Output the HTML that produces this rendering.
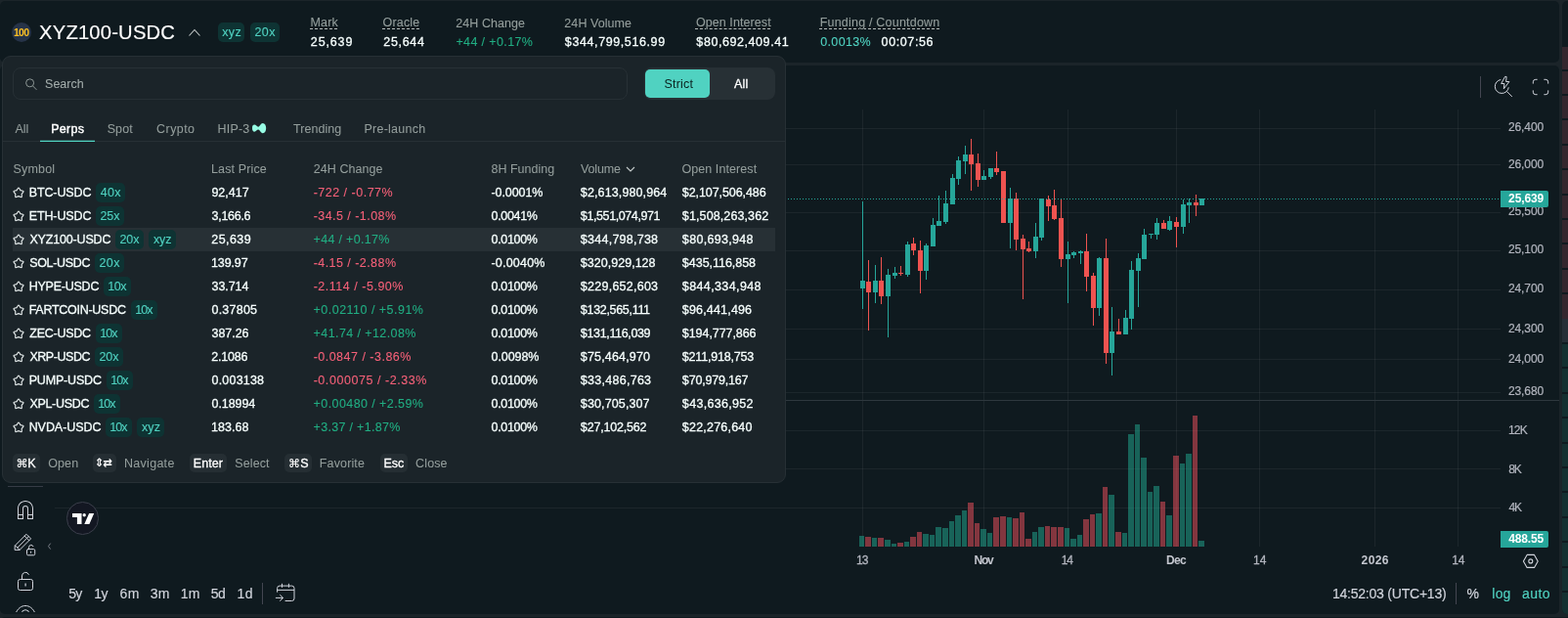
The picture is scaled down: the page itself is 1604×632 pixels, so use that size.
<!DOCTYPE html>
<html lang="en">
<head>
<meta charset="utf-8">
<title>XYZ100-USDC</title>
<style>
html,body{margin:0;padding:0;}
body{width:1604px;height:632px;overflow:hidden;background:#1b2429;font-family:"Liberation Sans",sans-serif;font-size:12px;color:#f6fefd;}
#app{position:relative;width:1604px;height:632px;overflow:hidden;}
.b{position:absolute;box-sizing:border-box;}
.t{position:absolute;white-space:pre;line-height:16px;height:16px;}
svg{position:absolute;overflow:visible;}
kbd{font:inherit;}
section{display:block;margin:0;padding:0;}

</style>
</head>
<body>
<div id="app">
<div class="b" style="left:0px;top:1px;width:1595px;height:63px;background:#0f1a1f;border-radius:5px;"></div>
<div class="b" style="left:0px;top:67px;width:1595px;height:561px;background:#0f1a1f;border-radius:5px;"></div>
<div class="b" style="left:0px;top:631px;width:1620px;height:12px;background:#0f1a1f;border-radius:5px;"></div>
<section class="order-book">
<div class="b" style="left:1598px;top:1px;width:12px;height:627px;background:#0f1a1f;border-radius:5px 0 0 5px;overflow:hidden;"><div class="b" style="left:0;top:47px;width:12px;height:278px;background:#33272e"></div><div class="b" style="left:0;top:325px;width:12px;height:24px;background:#262f37"></div><div class="b" style="left:0;top:351px;width:12px;height:288px;background:#143031"></div><div class="b" style="left:0;top:70px;width:12px;height:2px;background:#0f1a1f"></div><div class="b" style="left:0;top:95px;width:12px;height:2px;background:#0f1a1f"></div><div class="b" style="left:0;top:120px;width:12px;height:2px;background:#0f1a1f"></div><div class="b" style="left:0;top:146px;width:12px;height:2px;background:#0f1a1f"></div><div class="b" style="left:0;top:171px;width:12px;height:2px;background:#0f1a1f"></div><div class="b" style="left:0;top:197px;width:12px;height:2px;background:#0f1a1f"></div><div class="b" style="left:0;top:222px;width:12px;height:2px;background:#0f1a1f"></div><div class="b" style="left:0;top:247px;width:12px;height:2px;background:#0f1a1f"></div><div class="b" style="left:0;top:273px;width:12px;height:2px;background:#0f1a1f"></div><div class="b" style="left:0;top:298px;width:12px;height:2px;background:#0f1a1f"></div><div class="b" style="left:0;top:374px;width:12px;height:2px;background:#0f1a1f"></div><div class="b" style="left:0;top:400px;width:12px;height:2px;background:#0f1a1f"></div><div class="b" style="left:0;top:425px;width:12px;height:2px;background:#0f1a1f"></div><div class="b" style="left:0;top:451px;width:12px;height:2px;background:#0f1a1f"></div><div class="b" style="left:0;top:476px;width:12px;height:2px;background:#0f1a1f"></div><div class="b" style="left:0;top:501px;width:12px;height:2px;background:#0f1a1f"></div><div class="b" style="left:0;top:527px;width:12px;height:2px;background:#0f1a1f"></div><div class="b" style="left:0;top:552px;width:12px;height:2px;background:#0f1a1f"></div><div class="b" style="left:0;top:578px;width:12px;height:2px;background:#0f1a1f"></div><div class="b" style="left:0;top:603px;width:12px;height:2px;background:#0f1a1f"></div></div>
</section>
<section class="market-header">
<div class="b" style="left:12px;top:23px;width:20px;height:20px;background:#263348;border-radius:10px;"></div>
<span class="t" style="left:14.04px;top:24.7px;font-size:10.5px;color:#fbbf24;font-weight:700;letter-spacing:-0.77px;">100</span>
<span class="t" style="left:40.05px;top:25px;font-size:20.2px;color:#ffffff;letter-spacing:0.2px;-webkit-text-stroke:0.15px #ffffff;">XYZ100-USDC</span>
<svg style="left:192px;top:27px" width="14" height="12" viewBox="0 0 14 12"><path d="M1.5 9.5 L7 3.5 L12.5 9.5" fill="none" stroke="#c4caca" stroke-width="1.1"/></svg>
<div class="b" style="left:223px;top:23px;width:27px;height:20px;background:#0e3333;border-radius:5px;"></div>
<span class="t" style="left:227.36px;top:25px;font-size:12.5px;color:#50d2c1;letter-spacing:0.26px;-webkit-text-stroke:0.1px #50d2c1;">xyz</span>
<div class="b" style="left:256px;top:23px;width:30px;height:20px;background:#0e3333;border-radius:5px;"></div>
<span class="t" style="left:260.47px;top:25px;font-size:12.5px;color:#50d2c1;letter-spacing:0.4px;-webkit-text-stroke:0.1px #50d2c1;">20x</span>
<span class="t" style="left:317.47px;top:15px;font-size:12.5px;color:#949e9c;letter-spacing:0.18px;-webkit-text-stroke:0.1px #949e9c;text-decoration:underline dashed #b4bbba;text-decoration-thickness:1px;text-underline-offset:2px;">Mark</span>
<span class="t" style="left:391.51px;top:15px;font-size:12.5px;color:#949e9c;letter-spacing:0.18px;-webkit-text-stroke:0.1px #949e9c;text-decoration:underline dashed #b4bbba;text-decoration-thickness:1px;text-underline-offset:2px;">Oracle</span>
<span class="t" style="left:466.37px;top:16px;font-size:12.5px;color:#949e9c;letter-spacing:0.05px;-webkit-text-stroke:0.1px #949e9c;">24H Change</span>
<span class="t" style="left:577.37px;top:16px;font-size:12.5px;color:#949e9c;letter-spacing:0.06px;-webkit-text-stroke:0.1px #949e9c;">24H Volume</span>
<span class="t" style="left:711.91px;top:15px;font-size:12.5px;color:#949e9c;letter-spacing:0.08px;-webkit-text-stroke:0.1px #949e9c;text-decoration:underline dashed #b4bbba;text-decoration-thickness:1px;text-underline-offset:2px;">Open Interest</span>
<span class="t" style="left:838.67px;top:15px;font-size:12.5px;color:#949e9c;letter-spacing:0.21px;-webkit-text-stroke:0.1px #949e9c;text-decoration:underline dashed #b4bbba;text-decoration-thickness:1px;text-underline-offset:2px;">Funding / Countdown</span>
<span class="t" style="left:317.87px;top:35px;font-size:12.5px;color:#f6fefd;letter-spacing:0.85px;-webkit-text-stroke:0.3px #f6fefd;">25,639</span>
<span class="t" style="left:392.37px;top:35px;font-size:12.5px;color:#f6fefd;letter-spacing:0.65px;-webkit-text-stroke:0.3px #f6fefd;">25,644</span>
<span class="t" style="left:466.39px;top:35px;font-size:12.5px;color:#21ad82;letter-spacing:0.38px;-webkit-text-stroke:0.1px #21ad82;">+44 / +0.17%</span>
<span class="t" style="left:577.87px;top:35px;font-size:12.5px;color:#f6fefd;letter-spacing:0.6px;-webkit-text-stroke:0.3px #f6fefd;">$344,799,516.99</span>
<span class="t" style="left:712.37px;top:35px;font-size:12.5px;color:#f6fefd;letter-spacing:0.57px;-webkit-text-stroke:0.3px #f6fefd;">$80,692,409.41</span>
<span class="t" style="left:839.21px;top:35px;font-size:12.5px;color:#50d2c1;letter-spacing:0.35px;-webkit-text-stroke:0.1px #50d2c1;">0.0013%</span>
<span class="t" style="left:901.61px;top:35px;font-size:12.5px;color:#f6fefd;letter-spacing:0.6px;-webkit-text-stroke:0.3px #f6fefd;">00:07:56</span>
</section>
<section class="chart">
<svg style="left:0;top:0" width="1604" height="632" viewBox="0 0 1604 632" shape-rendering="crispEdges"><rect x="882" y="112" width="1" height="447" fill="rgba(255,255,255,0.055)"/><rect x="1006" y="112" width="1" height="447" fill="rgba(255,255,255,0.055)"/><rect x="1092" y="112" width="1" height="447" fill="rgba(255,255,255,0.055)"/><rect x="1203" y="112" width="1" height="447" fill="rgba(255,255,255,0.055)"/><rect x="1288" y="112" width="1" height="447" fill="rgba(255,255,255,0.055)"/><rect x="1406" y="112" width="1" height="447" fill="rgba(255,255,255,0.055)"/><rect x="1491" y="112" width="1" height="447" fill="rgba(255,255,255,0.055)"/><rect x="56" y="131" width="1479" height="1" fill="rgba(255,255,255,0.055)"/><rect x="56" y="168" width="1479" height="1" fill="rgba(255,255,255,0.055)"/><rect x="56" y="217" width="1479" height="1" fill="rgba(255,255,255,0.055)"/><rect x="56" y="256" width="1479" height="1" fill="rgba(255,255,255,0.055)"/><rect x="56" y="296" width="1479" height="1" fill="rgba(255,255,255,0.055)"/><rect x="56" y="336" width="1479" height="1" fill="rgba(255,255,255,0.055)"/><rect x="56" y="367" width="1479" height="1" fill="rgba(255,255,255,0.055)"/><rect x="56" y="401" width="1479" height="1" fill="rgba(255,255,255,0.055)"/><rect x="56" y="440" width="1479" height="1" fill="rgba(255,255,255,0.055)"/><rect x="56" y="479" width="1479" height="1" fill="rgba(255,255,255,0.055)"/><rect x="56" y="519" width="1479" height="1" fill="rgba(255,255,255,0.055)"/><rect x="56" y="409" width="1539" height="1" fill="#2e383e"/><rect x="879" y="548" width="5" height="11" fill="rgba(34,171,148,0.5)"/><rect x="885" y="549" width="6" height="10" fill="rgba(247,82,95,0.5)"/><rect x="892" y="550" width="5" height="9" fill="rgba(34,171,148,0.5)"/><rect x="898" y="550" width="6" height="9" fill="rgba(247,82,95,0.5)"/><rect x="905" y="552" width="6" height="7" fill="rgba(34,171,148,0.5)"/><rect x="912" y="556" width="5" height="3" fill="rgba(34,171,148,0.5)"/><rect x="918" y="555" width="6" height="4" fill="rgba(247,82,95,0.5)"/><rect x="925" y="554" width="5" height="5" fill="rgba(34,171,148,0.5)"/><rect x="931" y="549" width="6" height="10" fill="rgba(247,82,95,0.5)"/><rect x="938" y="544" width="5" height="15" fill="rgba(247,82,95,0.5)"/><rect x="944" y="546" width="6" height="13" fill="rgba(34,171,148,0.5)"/><rect x="951" y="547" width="5" height="12" fill="rgba(34,171,148,0.5)"/><rect x="957" y="539" width="6" height="20" fill="rgba(34,171,148,0.5)"/><rect x="964" y="540" width="6" height="19" fill="rgba(34,171,148,0.5)"/><rect x="971" y="533" width="5" height="26" fill="rgba(34,171,148,0.5)"/><rect x="977" y="527" width="6" height="32" fill="rgba(34,171,148,0.5)"/><rect x="984" y="522" width="5" height="37" fill="rgba(34,171,148,0.5)"/><rect x="990" y="514" width="6" height="45" fill="rgba(247,82,95,0.5)"/><rect x="997" y="535" width="5" height="24" fill="rgba(247,82,95,0.5)"/><rect x="1003" y="541" width="6" height="18" fill="rgba(34,171,148,0.5)"/><rect x="1010" y="545" width="5" height="14" fill="rgba(34,171,148,0.5)"/><rect x="1016" y="529" width="6" height="30" fill="rgba(247,82,95,0.5)"/><rect x="1023" y="528" width="6" height="31" fill="rgba(247,82,95,0.5)"/><rect x="1030" y="529" width="5" height="30" fill="rgba(34,171,148,0.5)"/><rect x="1036" y="530" width="6" height="29" fill="rgba(247,82,95,0.5)"/><rect x="1043" y="524" width="5" height="35" fill="rgba(247,82,95,0.5)"/><rect x="1049" y="551" width="6" height="8" fill="rgba(247,82,95,0.5)"/><rect x="1056" y="544" width="5" height="15" fill="rgba(34,171,148,0.5)"/><rect x="1062" y="539" width="6" height="20" fill="rgba(34,171,148,0.5)"/><rect x="1069" y="538" width="5" height="21" fill="rgba(247,82,95,0.5)"/><rect x="1075" y="539" width="6" height="20" fill="rgba(247,82,95,0.5)"/><rect x="1082" y="539" width="6" height="20" fill="rgba(247,82,95,0.5)"/><rect x="1089" y="540" width="5" height="19" fill="rgba(34,171,148,0.5)"/><rect x="1095" y="551" width="6" height="8" fill="rgba(34,171,148,0.5)"/><rect x="1102" y="547" width="5" height="12" fill="rgba(34,171,148,0.5)"/><rect x="1108" y="531" width="6" height="28" fill="rgba(247,82,95,0.5)"/><rect x="1115" y="526" width="5" height="33" fill="rgba(247,82,95,0.5)"/><rect x="1121" y="525" width="6" height="34" fill="rgba(34,171,148,0.5)"/><rect x="1128" y="498" width="5" height="61" fill="rgba(247,82,95,0.5)"/><rect x="1134" y="506" width="6" height="53" fill="rgba(34,171,148,0.5)"/><rect x="1141" y="544" width="6" height="15" fill="rgba(247,82,95,0.5)"/><rect x="1148" y="545" width="5" height="14" fill="rgba(34,171,148,0.5)"/><rect x="1154" y="444" width="6" height="115" fill="rgba(34,171,148,0.5)"/><rect x="1161" y="434" width="5" height="125" fill="rgba(34,171,148,0.5)"/><rect x="1167" y="468" width="6" height="91" fill="rgba(34,171,148,0.5)"/><rect x="1174" y="503" width="5" height="56" fill="rgba(34,171,148,0.5)"/><rect x="1180" y="497" width="6" height="62" fill="rgba(34,171,148,0.5)"/><rect x="1187" y="513" width="5" height="46" fill="rgba(247,82,95,0.5)"/><rect x="1193" y="527" width="6" height="32" fill="rgba(34,171,148,0.5)"/><rect x="1200" y="466" width="6" height="93" fill="rgba(247,82,95,0.5)"/><rect x="1207" y="474" width="5" height="85" fill="rgba(34,171,148,0.5)"/><rect x="1213" y="464" width="6" height="95" fill="rgba(34,171,148,0.5)"/><rect x="1220" y="425" width="5" height="134" fill="rgba(247,82,95,0.5)"/><rect x="1226" y="553" width="6" height="6" fill="rgba(34,171,148,0.5)"/><rect x="882" y="206" width="1" height="110" fill="#26a69a"/><rect x="880" y="287" width="5" height="8" fill="#26a69a"/><rect x="888" y="266" width="1" height="72" fill="#ef5350"/><rect x="886" y="288" width="5" height="11" fill="#ef5350"/><rect x="895" y="271" width="1" height="39" fill="#26a69a"/><rect x="893" y="287" width="5" height="12" fill="#26a69a"/><rect x="901" y="263" width="1" height="48" fill="#ef5350"/><rect x="899" y="287" width="5" height="16" fill="#ef5350"/><rect x="908" y="275" width="1" height="70" fill="#26a69a"/><rect x="906" y="281" width="5" height="22" fill="#26a69a"/><rect x="915" y="273" width="1" height="12" fill="#26a69a"/><rect x="913" y="279" width="5" height="3" fill="#26a69a"/><rect x="921" y="272" width="1" height="10" fill="#ef5350"/><rect x="919" y="279" width="5" height="1" fill="#ef5350"/><rect x="928" y="247" width="1" height="36" fill="#26a69a"/><rect x="926" y="250" width="5" height="31" fill="#26a69a"/><rect x="934" y="243" width="1" height="18" fill="#ef5350"/><rect x="932" y="249" width="5" height="7" fill="#ef5350"/><rect x="941" y="246" width="1" height="54" fill="#ef5350"/><rect x="939" y="256" width="5" height="21" fill="#ef5350"/><rect x="947" y="249" width="1" height="37" fill="#26a69a"/><rect x="945" y="251" width="5" height="26" fill="#26a69a"/><rect x="954" y="223" width="1" height="29" fill="#26a69a"/><rect x="952" y="230" width="5" height="22" fill="#26a69a"/><rect x="960" y="200" width="1" height="31" fill="#26a69a"/><rect x="958" y="226" width="5" height="5" fill="#26a69a"/><rect x="967" y="195" width="1" height="34" fill="#26a69a"/><rect x="965" y="208" width="5" height="19" fill="#26a69a"/><rect x="974" y="178" width="1" height="31" fill="#26a69a"/><rect x="972" y="182" width="5" height="27" fill="#26a69a"/><rect x="980" y="160" width="1" height="29" fill="#26a69a"/><rect x="978" y="164" width="5" height="19" fill="#26a69a"/><rect x="987" y="149" width="1" height="29" fill="#26a69a"/><rect x="985" y="158" width="5" height="7" fill="#26a69a"/><rect x="993" y="142" width="1" height="53" fill="#ef5350"/><rect x="991" y="158" width="5" height="10" fill="#ef5350"/><rect x="1000" y="157" width="1" height="34" fill="#ef5350"/><rect x="998" y="167" width="5" height="17" fill="#ef5350"/><rect x="1006" y="174" width="1" height="10" fill="#26a69a"/><rect x="1004" y="180" width="5" height="4" fill="#26a69a"/><rect x="1013" y="172" width="1" height="11" fill="#26a69a"/><rect x="1011" y="172" width="5" height="9" fill="#26a69a"/><rect x="1019" y="155" width="1" height="24" fill="#ef5350"/><rect x="1017" y="172" width="5" height="4" fill="#ef5350"/><rect x="1026" y="175" width="1" height="53" fill="#ef5350"/><rect x="1024" y="175" width="5" height="53" fill="#ef5350"/><rect x="1033" y="192" width="1" height="62" fill="#26a69a"/><rect x="1031" y="203" width="5" height="25" fill="#26a69a"/><rect x="1039" y="197" width="1" height="59" fill="#ef5350"/><rect x="1037" y="203" width="5" height="42" fill="#ef5350"/><rect x="1046" y="240" width="1" height="66" fill="#ef5350"/><rect x="1044" y="244" width="5" height="11" fill="#ef5350"/><rect x="1052" y="247" width="1" height="11" fill="#ef5350"/><rect x="1050" y="254" width="5" height="3" fill="#ef5350"/><rect x="1059" y="228" width="1" height="36" fill="#26a69a"/><rect x="1057" y="242" width="5" height="15" fill="#26a69a"/><rect x="1065" y="203" width="1" height="43" fill="#26a69a"/><rect x="1063" y="203" width="5" height="40" fill="#26a69a"/><rect x="1072" y="200" width="1" height="26" fill="#ef5350"/><rect x="1070" y="204" width="5" height="7" fill="#ef5350"/><rect x="1078" y="194" width="1" height="31" fill="#ef5350"/><rect x="1076" y="210" width="5" height="14" fill="#ef5350"/><rect x="1085" y="204" width="1" height="69" fill="#ef5350"/><rect x="1083" y="223" width="5" height="42" fill="#ef5350"/><rect x="1092" y="247" width="1" height="63" fill="#26a69a"/><rect x="1090" y="260" width="5" height="5" fill="#26a69a"/><rect x="1098" y="257" width="1" height="7" fill="#26a69a"/><rect x="1096" y="258" width="5" height="3" fill="#26a69a"/><rect x="1105" y="256" width="1" height="14" fill="#26a69a"/><rect x="1103" y="257" width="5" height="2" fill="#26a69a"/><rect x="1111" y="239" width="1" height="59" fill="#ef5350"/><rect x="1109" y="257" width="5" height="26" fill="#ef5350"/><rect x="1118" y="279" width="1" height="54" fill="#ef5350"/><rect x="1116" y="282" width="5" height="33" fill="#ef5350"/><rect x="1124" y="263" width="1" height="60" fill="#26a69a"/><rect x="1122" y="264" width="5" height="51" fill="#26a69a"/><rect x="1131" y="244" width="1" height="128" fill="#ef5350"/><rect x="1129" y="264" width="5" height="97" fill="#ef5350"/><rect x="1137" y="314" width="1" height="70" fill="#26a69a"/><rect x="1135" y="339" width="5" height="22" fill="#26a69a"/><rect x="1144" y="326" width="1" height="16" fill="#ef5350"/><rect x="1142" y="339" width="5" height="3" fill="#ef5350"/><rect x="1151" y="317" width="1" height="25" fill="#26a69a"/><rect x="1149" y="325" width="5" height="17" fill="#26a69a"/><rect x="1157" y="267" width="1" height="70" fill="#26a69a"/><rect x="1155" y="276" width="5" height="50" fill="#26a69a"/><rect x="1164" y="259" width="1" height="55" fill="#26a69a"/><rect x="1162" y="264" width="5" height="13" fill="#26a69a"/><rect x="1170" y="234" width="1" height="31" fill="#26a69a"/><rect x="1168" y="240" width="5" height="25" fill="#26a69a"/><rect x="1177" y="239" width="1" height="5" fill="#26a69a"/><rect x="1175" y="239" width="5" height="1" fill="#26a69a"/><rect x="1183" y="223" width="1" height="22" fill="#26a69a"/><rect x="1181" y="228" width="5" height="12" fill="#26a69a"/><rect x="1190" y="225" width="1" height="9" fill="#ef5350"/><rect x="1188" y="228" width="5" height="6" fill="#ef5350"/><rect x="1196" y="221" width="1" height="15" fill="#26a69a"/><rect x="1194" y="226" width="5" height="9" fill="#26a69a"/><rect x="1203" y="222" width="1" height="31" fill="#ef5350"/><rect x="1201" y="227" width="5" height="5" fill="#ef5350"/><rect x="1210" y="204" width="1" height="35" fill="#26a69a"/><rect x="1208" y="209" width="5" height="23" fill="#26a69a"/><rect x="1216" y="203" width="1" height="25" fill="#26a69a"/><rect x="1214" y="207" width="5" height="3" fill="#26a69a"/><rect x="1223" y="199" width="1" height="22" fill="#ef5350"/><rect x="1221" y="207" width="5" height="3" fill="#ef5350"/><rect x="1229" y="203" width="1" height="7" fill="#26a69a"/><rect x="1227" y="203" width="5" height="7" fill="#26a69a"/><rect x="803" y="203" width="1" height="1" fill="#26a69a"/><rect x="806" y="203" width="1" height="1" fill="#26a69a"/><rect x="809" y="203" width="1" height="1" fill="#26a69a"/><rect x="812" y="203" width="1" height="1" fill="#26a69a"/><rect x="815" y="203" width="1" height="1" fill="#26a69a"/><rect x="818" y="203" width="1" height="1" fill="#26a69a"/><rect x="821" y="203" width="1" height="1" fill="#26a69a"/><rect x="824" y="203" width="1" height="1" fill="#26a69a"/><rect x="827" y="203" width="1" height="1" fill="#26a69a"/><rect x="830" y="203" width="1" height="1" fill="#26a69a"/><rect x="833" y="203" width="1" height="1" fill="#26a69a"/><rect x="836" y="203" width="1" height="1" fill="#26a69a"/><rect x="839" y="203" width="1" height="1" fill="#26a69a"/><rect x="842" y="203" width="1" height="1" fill="#26a69a"/><rect x="845" y="203" width="1" height="1" fill="#26a69a"/><rect x="848" y="203" width="1" height="1" fill="#26a69a"/><rect x="851" y="203" width="1" height="1" fill="#26a69a"/><rect x="854" y="203" width="1" height="1" fill="#26a69a"/><rect x="857" y="203" width="1" height="1" fill="#26a69a"/><rect x="860" y="203" width="1" height="1" fill="#26a69a"/><rect x="863" y="203" width="1" height="1" fill="#26a69a"/><rect x="866" y="203" width="1" height="1" fill="#26a69a"/><rect x="869" y="203" width="1" height="1" fill="#26a69a"/><rect x="872" y="203" width="1" height="1" fill="#26a69a"/><rect x="875" y="203" width="1" height="1" fill="#26a69a"/><rect x="878" y="203" width="1" height="1" fill="#26a69a"/><rect x="881" y="203" width="1" height="1" fill="#26a69a"/><rect x="884" y="203" width="1" height="1" fill="#26a69a"/><rect x="887" y="203" width="1" height="1" fill="#26a69a"/><rect x="890" y="203" width="1" height="1" fill="#26a69a"/><rect x="893" y="203" width="1" height="1" fill="#26a69a"/><rect x="896" y="203" width="1" height="1" fill="#26a69a"/><rect x="899" y="203" width="1" height="1" fill="#26a69a"/><rect x="902" y="203" width="1" height="1" fill="#26a69a"/><rect x="905" y="203" width="1" height="1" fill="#26a69a"/><rect x="908" y="203" width="1" height="1" fill="#26a69a"/><rect x="911" y="203" width="1" height="1" fill="#26a69a"/><rect x="914" y="203" width="1" height="1" fill="#26a69a"/><rect x="917" y="203" width="1" height="1" fill="#26a69a"/><rect x="920" y="203" width="1" height="1" fill="#26a69a"/><rect x="923" y="203" width="1" height="1" fill="#26a69a"/><rect x="926" y="203" width="1" height="1" fill="#26a69a"/><rect x="929" y="203" width="1" height="1" fill="#26a69a"/><rect x="932" y="203" width="1" height="1" fill="#26a69a"/><rect x="935" y="203" width="1" height="1" fill="#26a69a"/><rect x="938" y="203" width="1" height="1" fill="#26a69a"/><rect x="941" y="203" width="1" height="1" fill="#26a69a"/><rect x="944" y="203" width="1" height="1" fill="#26a69a"/><rect x="947" y="203" width="1" height="1" fill="#26a69a"/><rect x="950" y="203" width="1" height="1" fill="#26a69a"/><rect x="953" y="203" width="1" height="1" fill="#26a69a"/><rect x="956" y="203" width="1" height="1" fill="#26a69a"/><rect x="959" y="203" width="1" height="1" fill="#26a69a"/><rect x="962" y="203" width="1" height="1" fill="#26a69a"/><rect x="965" y="203" width="1" height="1" fill="#26a69a"/><rect x="968" y="203" width="1" height="1" fill="#26a69a"/><rect x="971" y="203" width="1" height="1" fill="#26a69a"/><rect x="974" y="203" width="1" height="1" fill="#26a69a"/><rect x="977" y="203" width="1" height="1" fill="#26a69a"/><rect x="980" y="203" width="1" height="1" fill="#26a69a"/><rect x="983" y="203" width="1" height="1" fill="#26a69a"/><rect x="986" y="203" width="1" height="1" fill="#26a69a"/><rect x="989" y="203" width="1" height="1" fill="#26a69a"/><rect x="992" y="203" width="1" height="1" fill="#26a69a"/><rect x="995" y="203" width="1" height="1" fill="#26a69a"/><rect x="998" y="203" width="1" height="1" fill="#26a69a"/><rect x="1001" y="203" width="1" height="1" fill="#26a69a"/><rect x="1004" y="203" width="1" height="1" fill="#26a69a"/><rect x="1007" y="203" width="1" height="1" fill="#26a69a"/><rect x="1010" y="203" width="1" height="1" fill="#26a69a"/><rect x="1013" y="203" width="1" height="1" fill="#26a69a"/><rect x="1016" y="203" width="1" height="1" fill="#26a69a"/><rect x="1019" y="203" width="1" height="1" fill="#26a69a"/><rect x="1022" y="203" width="1" height="1" fill="#26a69a"/><rect x="1025" y="203" width="1" height="1" fill="#26a69a"/><rect x="1028" y="203" width="1" height="1" fill="#26a69a"/><rect x="1031" y="203" width="1" height="1" fill="#26a69a"/><rect x="1034" y="203" width="1" height="1" fill="#26a69a"/><rect x="1037" y="203" width="1" height="1" fill="#26a69a"/><rect x="1040" y="203" width="1" height="1" fill="#26a69a"/><rect x="1043" y="203" width="1" height="1" fill="#26a69a"/><rect x="1046" y="203" width="1" height="1" fill="#26a69a"/><rect x="1049" y="203" width="1" height="1" fill="#26a69a"/><rect x="1052" y="203" width="1" height="1" fill="#26a69a"/><rect x="1055" y="203" width="1" height="1" fill="#26a69a"/><rect x="1058" y="203" width="1" height="1" fill="#26a69a"/><rect x="1061" y="203" width="1" height="1" fill="#26a69a"/><rect x="1064" y="203" width="1" height="1" fill="#26a69a"/><rect x="1067" y="203" width="1" height="1" fill="#26a69a"/><rect x="1070" y="203" width="1" height="1" fill="#26a69a"/><rect x="1073" y="203" width="1" height="1" fill="#26a69a"/><rect x="1076" y="203" width="1" height="1" fill="#26a69a"/><rect x="1079" y="203" width="1" height="1" fill="#26a69a"/><rect x="1082" y="203" width="1" height="1" fill="#26a69a"/><rect x="1085" y="203" width="1" height="1" fill="#26a69a"/><rect x="1088" y="203" width="1" height="1" fill="#26a69a"/><rect x="1091" y="203" width="1" height="1" fill="#26a69a"/><rect x="1094" y="203" width="1" height="1" fill="#26a69a"/><rect x="1097" y="203" width="1" height="1" fill="#26a69a"/><rect x="1100" y="203" width="1" height="1" fill="#26a69a"/><rect x="1103" y="203" width="1" height="1" fill="#26a69a"/><rect x="1106" y="203" width="1" height="1" fill="#26a69a"/><rect x="1109" y="203" width="1" height="1" fill="#26a69a"/><rect x="1112" y="203" width="1" height="1" fill="#26a69a"/><rect x="1115" y="203" width="1" height="1" fill="#26a69a"/><rect x="1118" y="203" width="1" height="1" fill="#26a69a"/><rect x="1121" y="203" width="1" height="1" fill="#26a69a"/><rect x="1124" y="203" width="1" height="1" fill="#26a69a"/><rect x="1127" y="203" width="1" height="1" fill="#26a69a"/><rect x="1130" y="203" width="1" height="1" fill="#26a69a"/><rect x="1133" y="203" width="1" height="1" fill="#26a69a"/><rect x="1136" y="203" width="1" height="1" fill="#26a69a"/><rect x="1139" y="203" width="1" height="1" fill="#26a69a"/><rect x="1142" y="203" width="1" height="1" fill="#26a69a"/><rect x="1145" y="203" width="1" height="1" fill="#26a69a"/><rect x="1148" y="203" width="1" height="1" fill="#26a69a"/><rect x="1151" y="203" width="1" height="1" fill="#26a69a"/><rect x="1154" y="203" width="1" height="1" fill="#26a69a"/><rect x="1157" y="203" width="1" height="1" fill="#26a69a"/><rect x="1160" y="203" width="1" height="1" fill="#26a69a"/><rect x="1163" y="203" width="1" height="1" fill="#26a69a"/><rect x="1166" y="203" width="1" height="1" fill="#26a69a"/><rect x="1169" y="203" width="1" height="1" fill="#26a69a"/><rect x="1172" y="203" width="1" height="1" fill="#26a69a"/><rect x="1175" y="203" width="1" height="1" fill="#26a69a"/><rect x="1178" y="203" width="1" height="1" fill="#26a69a"/><rect x="1181" y="203" width="1" height="1" fill="#26a69a"/><rect x="1184" y="203" width="1" height="1" fill="#26a69a"/><rect x="1187" y="203" width="1" height="1" fill="#26a69a"/><rect x="1190" y="203" width="1" height="1" fill="#26a69a"/><rect x="1193" y="203" width="1" height="1" fill="#26a69a"/><rect x="1196" y="203" width="1" height="1" fill="#26a69a"/><rect x="1199" y="203" width="1" height="1" fill="#26a69a"/><rect x="1202" y="203" width="1" height="1" fill="#26a69a"/><rect x="1205" y="203" width="1" height="1" fill="#26a69a"/><rect x="1208" y="203" width="1" height="1" fill="#26a69a"/><rect x="1211" y="203" width="1" height="1" fill="#26a69a"/><rect x="1214" y="203" width="1" height="1" fill="#26a69a"/><rect x="1217" y="203" width="1" height="1" fill="#26a69a"/><rect x="1220" y="203" width="1" height="1" fill="#26a69a"/><rect x="1223" y="203" width="1" height="1" fill="#26a69a"/><rect x="1226" y="203" width="1" height="1" fill="#26a69a"/><rect x="1229" y="203" width="1" height="1" fill="#26a69a"/><rect x="1232" y="203" width="1" height="1" fill="#26a69a"/><rect x="1235" y="203" width="1" height="1" fill="#26a69a"/><rect x="1238" y="203" width="1" height="1" fill="#26a69a"/><rect x="1241" y="203" width="1" height="1" fill="#26a69a"/><rect x="1244" y="203" width="1" height="1" fill="#26a69a"/><rect x="1247" y="203" width="1" height="1" fill="#26a69a"/><rect x="1250" y="203" width="1" height="1" fill="#26a69a"/><rect x="1253" y="203" width="1" height="1" fill="#26a69a"/><rect x="1256" y="203" width="1" height="1" fill="#26a69a"/><rect x="1259" y="203" width="1" height="1" fill="#26a69a"/><rect x="1262" y="203" width="1" height="1" fill="#26a69a"/><rect x="1265" y="203" width="1" height="1" fill="#26a69a"/><rect x="1268" y="203" width="1" height="1" fill="#26a69a"/><rect x="1271" y="203" width="1" height="1" fill="#26a69a"/><rect x="1274" y="203" width="1" height="1" fill="#26a69a"/><rect x="1277" y="203" width="1" height="1" fill="#26a69a"/><rect x="1280" y="203" width="1" height="1" fill="#26a69a"/><rect x="1283" y="203" width="1" height="1" fill="#26a69a"/><rect x="1286" y="203" width="1" height="1" fill="#26a69a"/><rect x="1289" y="203" width="1" height="1" fill="#26a69a"/><rect x="1292" y="203" width="1" height="1" fill="#26a69a"/><rect x="1295" y="203" width="1" height="1" fill="#26a69a"/><rect x="1298" y="203" width="1" height="1" fill="#26a69a"/><rect x="1301" y="203" width="1" height="1" fill="#26a69a"/><rect x="1304" y="203" width="1" height="1" fill="#26a69a"/><rect x="1307" y="203" width="1" height="1" fill="#26a69a"/><rect x="1310" y="203" width="1" height="1" fill="#26a69a"/><rect x="1313" y="203" width="1" height="1" fill="#26a69a"/><rect x="1316" y="203" width="1" height="1" fill="#26a69a"/><rect x="1319" y="203" width="1" height="1" fill="#26a69a"/><rect x="1322" y="203" width="1" height="1" fill="#26a69a"/><rect x="1325" y="203" width="1" height="1" fill="#26a69a"/><rect x="1328" y="203" width="1" height="1" fill="#26a69a"/><rect x="1331" y="203" width="1" height="1" fill="#26a69a"/><rect x="1334" y="203" width="1" height="1" fill="#26a69a"/><rect x="1337" y="203" width="1" height="1" fill="#26a69a"/><rect x="1340" y="203" width="1" height="1" fill="#26a69a"/><rect x="1343" y="203" width="1" height="1" fill="#26a69a"/><rect x="1346" y="203" width="1" height="1" fill="#26a69a"/><rect x="1349" y="203" width="1" height="1" fill="#26a69a"/><rect x="1352" y="203" width="1" height="1" fill="#26a69a"/><rect x="1355" y="203" width="1" height="1" fill="#26a69a"/><rect x="1358" y="203" width="1" height="1" fill="#26a69a"/><rect x="1361" y="203" width="1" height="1" fill="#26a69a"/><rect x="1364" y="203" width="1" height="1" fill="#26a69a"/><rect x="1367" y="203" width="1" height="1" fill="#26a69a"/><rect x="1370" y="203" width="1" height="1" fill="#26a69a"/><rect x="1373" y="203" width="1" height="1" fill="#26a69a"/><rect x="1376" y="203" width="1" height="1" fill="#26a69a"/><rect x="1379" y="203" width="1" height="1" fill="#26a69a"/><rect x="1382" y="203" width="1" height="1" fill="#26a69a"/><rect x="1385" y="203" width="1" height="1" fill="#26a69a"/><rect x="1388" y="203" width="1" height="1" fill="#26a69a"/><rect x="1391" y="203" width="1" height="1" fill="#26a69a"/><rect x="1394" y="203" width="1" height="1" fill="#26a69a"/><rect x="1397" y="203" width="1" height="1" fill="#26a69a"/><rect x="1400" y="203" width="1" height="1" fill="#26a69a"/><rect x="1403" y="203" width="1" height="1" fill="#26a69a"/><rect x="1406" y="203" width="1" height="1" fill="#26a69a"/><rect x="1409" y="203" width="1" height="1" fill="#26a69a"/><rect x="1412" y="203" width="1" height="1" fill="#26a69a"/><rect x="1415" y="203" width="1" height="1" fill="#26a69a"/><rect x="1418" y="203" width="1" height="1" fill="#26a69a"/><rect x="1421" y="203" width="1" height="1" fill="#26a69a"/><rect x="1424" y="203" width="1" height="1" fill="#26a69a"/><rect x="1427" y="203" width="1" height="1" fill="#26a69a"/><rect x="1430" y="203" width="1" height="1" fill="#26a69a"/><rect x="1433" y="203" width="1" height="1" fill="#26a69a"/><rect x="1436" y="203" width="1" height="1" fill="#26a69a"/><rect x="1439" y="203" width="1" height="1" fill="#26a69a"/><rect x="1442" y="203" width="1" height="1" fill="#26a69a"/><rect x="1445" y="203" width="1" height="1" fill="#26a69a"/><rect x="1448" y="203" width="1" height="1" fill="#26a69a"/><rect x="1451" y="203" width="1" height="1" fill="#26a69a"/><rect x="1454" y="203" width="1" height="1" fill="#26a69a"/><rect x="1457" y="203" width="1" height="1" fill="#26a69a"/><rect x="1460" y="203" width="1" height="1" fill="#26a69a"/><rect x="1463" y="203" width="1" height="1" fill="#26a69a"/><rect x="1466" y="203" width="1" height="1" fill="#26a69a"/><rect x="1469" y="203" width="1" height="1" fill="#26a69a"/><rect x="1472" y="203" width="1" height="1" fill="#26a69a"/><rect x="1475" y="203" width="1" height="1" fill="#26a69a"/><rect x="1478" y="203" width="1" height="1" fill="#26a69a"/><rect x="1481" y="203" width="1" height="1" fill="#26a69a"/><rect x="1484" y="203" width="1" height="1" fill="#26a69a"/><rect x="1487" y="203" width="1" height="1" fill="#26a69a"/><rect x="1490" y="203" width="1" height="1" fill="#26a69a"/><rect x="1493" y="203" width="1" height="1" fill="#26a69a"/><rect x="1496" y="203" width="1" height="1" fill="#26a69a"/><rect x="1499" y="203" width="1" height="1" fill="#26a69a"/><rect x="1502" y="203" width="1" height="1" fill="#26a69a"/><rect x="1505" y="203" width="1" height="1" fill="#26a69a"/><rect x="1508" y="203" width="1" height="1" fill="#26a69a"/><rect x="1511" y="203" width="1" height="1" fill="#26a69a"/><rect x="1514" y="203" width="1" height="1" fill="#26a69a"/><rect x="1517" y="203" width="1" height="1" fill="#26a69a"/><rect x="1520" y="203" width="1" height="1" fill="#26a69a"/><rect x="1523" y="203" width="1" height="1" fill="#26a69a"/><rect x="1526" y="203" width="1" height="1" fill="#26a69a"/><rect x="1529" y="203" width="1" height="1" fill="#26a69a"/><rect x="1532" y="203" width="1" height="1" fill="#26a69a"/></svg>
<span class="t" style="left:1542.9px;top:122px;font-size:12px;color:#b2b5be;letter-spacing:-0.07px;-webkit-text-stroke:0.2px #b2b5be;">26,400</span>
<span class="t" style="left:1542.9px;top:160px;font-size:12px;color:#b2b5be;letter-spacing:-0.07px;-webkit-text-stroke:0.2px #b2b5be;">26,000</span>
<span class="t" style="left:1542.9px;top:208px;font-size:12px;color:#b2b5be;letter-spacing:-0.07px;-webkit-text-stroke:0.2px #b2b5be;">25,500</span>
<span class="t" style="left:1542.9px;top:247px;font-size:12px;color:#b2b5be;letter-spacing:-0.07px;-webkit-text-stroke:0.2px #b2b5be;">25,100</span>
<span class="t" style="left:1542.9px;top:287px;font-size:12px;color:#b2b5be;letter-spacing:-0.07px;-webkit-text-stroke:0.2px #b2b5be;">24,700</span>
<span class="t" style="left:1542.9px;top:328px;font-size:12px;color:#b2b5be;letter-spacing:-0.07px;-webkit-text-stroke:0.2px #b2b5be;">24,300</span>
<span class="t" style="left:1542.9px;top:359px;font-size:12px;color:#b2b5be;letter-spacing:-0.07px;-webkit-text-stroke:0.2px #b2b5be;">24,000</span>
<span class="t" style="left:1542.9px;top:392px;font-size:12px;color:#b2b5be;letter-spacing:-0.07px;-webkit-text-stroke:0.2px #b2b5be;">23,680</span>
<span class="t" style="left:1542.89px;top:432px;font-size:12px;color:#b2b5be;letter-spacing:-0.76px;-webkit-text-stroke:0.2px #b2b5be;">12K</span>
<span class="t" style="left:1543.28px;top:472px;font-size:12px;color:#b2b5be;letter-spacing:-1.2px;-webkit-text-stroke:0.2px #b2b5be;">8K</span>
<span class="t" style="left:1543.52px;top:511px;font-size:12px;color:#b2b5be;letter-spacing:-1.2px;-webkit-text-stroke:0.2px #b2b5be;">4K</span>
<span class="t" style="left:875.99px;top:565px;font-size:12px;color:#b2b5be;letter-spacing:-0.92px;-webkit-text-stroke:0.3px #b2b5be;">13</span>
<span class="t" style="left:996.5px;top:565px;font-size:12px;color:#c3c6ce;font-weight:700;letter-spacing:-1.2px;">Nov</span>
<span class="t" style="left:1085.69px;top:565px;font-size:12px;color:#b2b5be;letter-spacing:-0.99px;-webkit-text-stroke:0.3px #b2b5be;">14</span>
<span class="t" style="left:1193px;top:565px;font-size:12px;color:#c3c6ce;font-weight:700;letter-spacing:-0.63px;">Dec</span>
<span class="t" style="left:1282.09px;top:565px;font-size:12px;color:#b2b5be;letter-spacing:0.11px;-webkit-text-stroke:0.3px #b2b5be;">14</span>
<span class="t" style="left:1392.58px;top:565px;font-size:12px;color:#c3c6ce;font-weight:700;letter-spacing:0.38px;">2026</span>
<span class="t" style="left:1485.19px;top:565px;font-size:12px;color:#b2b5be;letter-spacing:-0.09px;-webkit-text-stroke:0.3px #b2b5be;">14</span>
<div class="b" style="left:1535px;top:195px;width:49px;height:17px;background:#26a69a;border-radius:0 2px 2px 0;"></div>
<span class="t" style="left:1543.08px;top:195px;font-size:12px;color:#ffffff;font-weight:700;letter-spacing:-0.11px;">25,639</span>
<div class="b" style="left:1535px;top:543px;width:49px;height:17px;background:#26a69a;border-radius:0 2px 2px 0;"></div>
<span class="t" style="left:1543.32px;top:543px;font-size:12px;color:#ffffff;font-weight:700;letter-spacing:-0.18px;">488.55</span>
</section>
<section class="chart-tools">
<div class="b" style="left:8px;top:497px;width:36px;height:1px;background:#363c46;"></div>
<svg style="left:12px;top:508px" width="28" height="28" viewBox="0 0 28 28"><g fill="#d1d4dc" fill-rule="evenodd"><path fill-rule="nonzero" d="M14 10a2 2 0 0 0-2 2v11H6V12c0-4.416 3.584-8 8-8s8 3.584 8 8v11h-6V12a2 2 0 0 0-2-2zm-3 2a3 3 0 0 1 6 0v10h4V12c0-3.864-3.136-7-7-7s-7 3.136-7 7v10h4V12z"/><path d="M6.5 18h5v1h-5zm10 0h5v1h-5z"/></g></svg>
<svg style="left:12px;top:543px" width="28" height="28" viewBox="0 0 28 28"><g fill="none" stroke="#d1d4dc" stroke-width="1" stroke-linejoin="round" stroke-linecap="round"><path d="M3.5 14.8 L15 3.3 L19.6 7.9 L8.1 19.4 H3.5 Z"/><path d="M3.5 14.8 L8.1 19.4"/><path d="M5.8 17.1 L17.3 5.6"/><path d="M13.2 5.1 L17.8 9.7"/><rect x="15.5" y="18.6" width="8.2" height="6.2" rx="1.2"/><path d="M17.6 18.4 V16.6 a2.3 2.3 0 0 1 4.4 -0.9"/></g><rect x="19.1" y="20.7" width="1" height="2" fill="#d1d4dc"/></svg>
<svg style="left:48px;top:554px" width="6" height="10" viewBox="0 0 6 10"><path d="M3.7 1.6 L1.5 4.6 L3.7 7.6" fill="none" stroke="#868a94" stroke-width="0.9"/></svg>
<svg style="left:12px;top:581px" width="28" height="28" viewBox="0 0 28 28"><g fill="none" stroke="#d1d4dc" stroke-width="1"><rect x="6.5" y="11.5" width="15" height="11" rx="2"/><path d="M10.5 11.5 V8 a3.6 3.6 0 0 1 7 -1.2"/></g><rect x="13.5" y="15.5" width="1.2" height="3" fill="#d1d4dc"/></svg>
<div class="b" style="left:12px;top:614px;width:28px;height:12px;overflow:hidden;"><svg style="left:0;top:0" width="28" height="28" viewBox="0 0 28 28"><g fill="none" stroke="#d1d4dc" stroke-width="1"><path d="M3.5 14.5 C6 7.8 10 5.5 14 5.5 C18 5.5 22 7.8 24.5 14.5"/><path d="M10.2 13.5 a3.8 3.8 0 0 1 7.6 0"/></g></svg></div>
<div class="b" style="left:67.6px;top:513.1px;width:33.9px;height:33.9px;background:#131722;border-radius:17px;border:1px solid #3b3f4b;"></div>
<svg style="left:73.7px;top:525.1px" width="23" height="11" viewBox="0 0 23 11"><path d="M0 0 H9.5 V10.9 H4.9 V3.9 H0 Z M17.1 0 H22.2 L17.4 10.9 H12.3 Z" fill="#ffffff"/><circle cx="12.2" cy="1.75" r="1.65" fill="#ffffff"/></svg>
<span class="t" style="left:70.14px;top:599px;font-size:14px;color:#d1d4dc;letter-spacing:-0.71px;-webkit-text-stroke:0.15px #d1d4dc;">5y</span>
<span class="t" style="left:96.33px;top:599px;font-size:14px;color:#d1d4dc;letter-spacing:-0.6px;-webkit-text-stroke:0.15px #d1d4dc;">1y</span>
<span class="t" style="left:122.39px;top:599px;font-size:14px;color:#d1d4dc;letter-spacing:0.48px;-webkit-text-stroke:0.15px #d1d4dc;">6m</span>
<span class="t" style="left:153.67px;top:599px;font-size:14px;color:#d1d4dc;letter-spacing:0.3px;-webkit-text-stroke:0.15px #d1d4dc;">3m</span>
<span class="t" style="left:184.83px;top:599px;font-size:14px;color:#d1d4dc;letter-spacing:0.24px;-webkit-text-stroke:0.15px #d1d4dc;">1m</span>
<span class="t" style="left:215.74px;top:599px;font-size:14px;color:#d1d4dc;letter-spacing:-0.42px;-webkit-text-stroke:0.15px #d1d4dc;">5d</span>
<span class="t" style="left:242.43px;top:599px;font-size:14px;color:#d1d4dc;letter-spacing:0.59px;-webkit-text-stroke:0.15px #d1d4dc;">1d</span>
<div class="b" style="left:268px;top:596px;width:1px;height:22px;background:#434651;"></div>
<svg style="left:281px;top:596px" width="22" height="20" viewBox="0 0 22 20"><g fill="none" stroke="#d1d4dc" stroke-width="1"><path d="M7.5 0.8 V4.8 M14.4 0.8 V4.8"/><path d="M2.6 9.7 V5.6 a2.5 2.5 0 0 1 2.5 -2.5 H17.5 a2.5 2.5 0 0 1 2.5 2.5 V16 a2.5 2.5 0 0 1 -2.5 2.5 H10.6"/><path d="M2.6 7.4 H20"/><path d="M0.9 15.4 H8.4 M5.3 12.2 L8.6 15.4 L5.3 18.6"/></g></svg>
<span class="t" style="left:1362.93px;top:599px;font-size:14px;color:#d1d4dc;letter-spacing:-0.22px;-webkit-text-stroke:0.15px #d1d4dc;">14:52:03 (UTC+13)</span>
<div class="b" style="left:1489px;top:596px;width:1px;height:22px;background:#434651;"></div>
<span class="t" style="left:1500.5px;top:599px;font-size:14px;color:#d1d4dc;-webkit-text-stroke:0.2px #d1d4dc;">%</span>
<span class="t" style="left:1526.36px;top:599px;font-size:14px;color:#50d2c1;letter-spacing:0.18px;-webkit-text-stroke:0.15px #50d2c1;">log</span>
<span class="t" style="left:1557.11px;top:599px;font-size:14px;color:#50d2c1;letter-spacing:0.41px;-webkit-text-stroke:0.15px #50d2c1;">auto</span>
<svg style="left:1556px;top:564px" width="20" height="20" viewBox="0 0 20 20"><g fill="none" stroke="#d1d4dc" stroke-width="1.1" stroke-linejoin="round"><path d="M6.1 3.4 H13.5 L17.2 9.9 L13.5 16.4 H6.1 L2.4 9.9 Z"/><circle cx="9.8" cy="9.9" r="2"/></g></svg>
<div class="b" style="left:1514px;top:78px;width:1px;height:22px;background:#434651;"></div>
<svg style="left:1526px;top:76px" width="24" height="26" viewBox="0 0 24 26"><g fill="none" stroke="#d1d4dc" stroke-width="1" stroke-linejoin="round"><path d="M9.3 5.5 A7 7 0 1 0 17.25 13.3"/><path d="M15.3 17.4 L20.8 22.9"/><path d="M13.5 2.4 H15.1 L14.6 7.5 H17.9 L12.3 14.8 L12.9 9.5 H9.7 Z"/></g></svg>
<svg style="left:1567px;top:80px" width="18" height="18" viewBox="0 0 18 18"><g fill="none" stroke="#d1d4dc" stroke-width="1"><path d="M1.3 5.6 V3.8 a2.5 2.5 0 0 1 2.5 -2.5 H5.6"/><path d="M12.4 1.3 H14.2 a2.5 2.5 0 0 1 2.5 2.5 V5.6"/><path d="M16.7 12.4 V14.2 a2.5 2.5 0 0 1 -2.5 2.5 H12.4"/><path d="M5.6 16.7 H3.8 a2.5 2.5 0 0 1 -2.5 -2.5 V12.4"/></g></svg>
</section>
<section class="market-selector">
<div class="b" style="left:2px;top:57px;width:802px;height:437px;background:#1b2429;border-radius:9px;border:1px solid #273035;"></div>
<div class="b" style="left:13px;top:69px;width:629px;height:33px;background:#1b2429;border-radius:8px;border:1px solid #273035;"></div>
<svg style="left:25px;top:79px" width="14" height="14" viewBox="0 0 14 14"><circle cx="5.6" cy="5.8" r="4" fill="none" stroke="#8d9795" stroke-width="1"/><path d="M8.6 8.9 L12.4 12.8" stroke="#8d9795" stroke-width="1" fill="none"/></svg>
<span class="t" style="left:46.03px;top:78px;font-size:12.5px;color:#a3adab;letter-spacing:0.03px;-webkit-text-stroke:0.05px #a3adab;">Search</span>
<div class="b" style="left:659px;top:69px;width:134px;height:33px;background:#273035;border-radius:8px;"></div>
<div class="b" style="left:660px;top:71px;width:66px;height:29px;background:#50d2c1;border-radius:5px;"></div>
<span class="t" style="left:679.43px;top:78px;font-size:12.5px;color:#0a211e;letter-spacing:0.23px;">Strict</span>
<span class="t" style="left:750.98px;top:78px;font-size:12.5px;color:#ffffff;letter-spacing:0.23px;-webkit-text-stroke:0.3px #ffffff;">All</span>
<div class="b" style="left:3px;top:144px;width:800px;height:1px;background:#273035;"></div>
<span class="t" style="left:15.48px;top:124px;font-size:12.5px;color:#949e9c;letter-spacing:-0.02px;-webkit-text-stroke:0.05px #949e9c;">All</span>
<span class="t" style="left:52.22px;top:124px;font-size:12.5px;color:#ffffff;letter-spacing:0.29px;-webkit-text-stroke:0.4px #ffffff;">Perps</span>
<span class="t" style="left:109.68px;top:124px;font-size:12.5px;color:#949e9c;letter-spacing:0.1px;-webkit-text-stroke:0.05px #949e9c;">Spot</span>
<span class="t" style="left:160.12px;top:124px;font-size:12.5px;color:#949e9c;letter-spacing:0.42px;-webkit-text-stroke:0.05px #949e9c;">Crypto</span>
<span class="t" style="left:222.57px;top:124px;font-size:12.5px;color:#949e9c;letter-spacing:0.16px;-webkit-text-stroke:0.05px #949e9c;">HIP-3</span>
<span class="t" style="left:299.97px;top:124px;font-size:12.5px;color:#949e9c;letter-spacing:0.05px;-webkit-text-stroke:0.05px #949e9c;">Trending</span>
<span class="t" style="left:372.47px;top:124px;font-size:12.5px;color:#949e9c;letter-spacing:0.24px;-webkit-text-stroke:0.05px #949e9c;">Pre-launch</span>
<div class="b" style="left:41px;top:143px;width:56px;height:1px;background:rgba(80,210,193,0.3);"></div>
<div class="b" style="left:41px;top:144px;width:56px;height:1px;background:#50d2c1;"></div>
<svg style="left:257.9px;top:126px" width="14.2" height="10.3" viewBox="0 0 14.2 10.3"><path d="M0 5 C0 2.5 1 1.6 2.2 1.6 C4 1.6 4.8 3.7 6.2 3.7 C7.8 3.7 8.6 0 10.8 0 C13 0 14.2 2.4 14.2 5.1 C14.2 7.9 13 10.3 10.8 10.3 C8.6 10.3 7.8 6.6 6.2 6.6 C4.8 6.6 4 8.7 2.2 8.7 C1 8.7 0 7.6 0 5 Z" fill="#97fce4"/></svg>
<span class="t" style="left:13.43px;top:165px;font-size:12.5px;color:#949e9c;letter-spacing:0.19px;-webkit-text-stroke:0.05px #949e9c;">Symbol</span>
<span class="t" style="left:215.97px;top:165px;font-size:12.5px;color:#949e9c;letter-spacing:0.14px;-webkit-text-stroke:0.05px #949e9c;">Last Price</span>
<span class="t" style="left:320.67px;top:165px;font-size:12.5px;color:#949e9c;letter-spacing:0.08px;-webkit-text-stroke:0.05px #949e9c;">24H Change</span>
<span class="t" style="left:502.46px;top:165px;font-size:12.5px;color:#949e9c;letter-spacing:0.02px;-webkit-text-stroke:0.05px #949e9c;">8H Funding</span>
<span class="t" style="left:593.95px;top:165px;font-size:12.5px;color:#949e9c;letter-spacing:-0.12px;-webkit-text-stroke:0.05px #949e9c;">Volume</span>
<span class="t" style="left:697.41px;top:165px;font-size:12.5px;color:#949e9c;letter-spacing:0.08px;-webkit-text-stroke:0.05px #949e9c;">Open Interest</span>
<svg style="left:640px;top:169px" width="10" height="8" viewBox="0 0 10 8"><path d="M1 2 L5 6 L9 2" fill="none" stroke="#c5cccb" stroke-width="1.1"/></svg>
<svg style="left:13.06px;top:191.05px" width="12" height="12" viewBox="0 0 12 12"><path d="M5.41 1.50 Q6.00 0.60 6.59 1.50 L7.97 3.59 L10.39 4.25 Q11.42 4.54 10.75 5.38 L9.19 7.34 L9.30 9.84 Q9.35 10.91 8.35 10.53 L6.00 9.65 L3.65 10.53 Q2.65 10.91 2.70 9.84 L2.81 7.34 L1.25 5.38 Q0.58 4.54 1.61 4.25 L4.03 3.59 Z" fill="none" stroke="#e4eaea" stroke-width="1.15" stroke-linejoin="round"/></svg>
<span class="t" style="left:29.67px;top:189px;font-size:12.5px;color:#f6fefd;letter-spacing:-0.11px;-webkit-text-stroke:0.3px #f6fefd;">BTC-USDC</span>
<div class="b" style="left:98px;top:187px;width:30px;height:20px;background:#0e3333;border-radius:5px;"></div>
<span class="t" style="left:102.81px;top:189px;font-size:12.5px;color:#50d2c1;letter-spacing:0.28px;-webkit-text-stroke:0.1px #50d2c1;">40x</span>
<span class="t" style="left:216.41px;top:189px;font-size:12.5px;color:#f6fefd;-webkit-text-stroke:0.3px #f6fefd;">92,417</span>
<span class="t" style="left:320.64px;top:189px;font-size:12.5px;color:#f46078;letter-spacing:0.5px;-webkit-text-stroke:0.1px #f46078;">-722 / -0.77%</span>
<span class="t" style="left:502.44px;top:189px;font-size:12.5px;color:#f6fefd;letter-spacing:-0.07px;-webkit-text-stroke:0.3px #f6fefd;">-0.0001%</span>
<span class="t" style="left:593.87px;top:189px;font-size:12.5px;color:#f6fefd;letter-spacing:0.12px;-webkit-text-stroke:0.3px #f6fefd;">$2,613,980,964</span>
<span class="t" style="left:697.87px;top:189px;font-size:12.5px;color:#f6fefd;letter-spacing:-0.09px;-webkit-text-stroke:0.3px #f6fefd;">$2,107,506,486</span>
<svg style="left:13.06px;top:215.05px" width="12" height="12" viewBox="0 0 12 12"><path d="M5.41 1.50 Q6.00 0.60 6.59 1.50 L7.97 3.59 L10.39 4.25 Q11.42 4.54 10.75 5.38 L9.19 7.34 L9.30 9.84 Q9.35 10.91 8.35 10.53 L6.00 9.65 L3.65 10.53 Q2.65 10.91 2.70 9.84 L2.81 7.34 L1.25 5.38 Q0.58 4.54 1.61 4.25 L4.03 3.59 Z" fill="none" stroke="#e4eaea" stroke-width="1.15" stroke-linejoin="round"/></svg>
<span class="t" style="left:29.67px;top:213px;font-size:12.5px;color:#f6fefd;letter-spacing:-0.11px;-webkit-text-stroke:0.3px #f6fefd;">ETH-USDC</span>
<div class="b" style="left:98px;top:211px;width:29px;height:20px;background:#0e3333;border-radius:5px;"></div>
<span class="t" style="left:102.47px;top:213px;font-size:12.5px;color:#50d2c1;letter-spacing:-0.05px;-webkit-text-stroke:0.1px #50d2c1;">25x</span>
<span class="t" style="left:216.52px;top:213px;font-size:12.5px;color:#f6fefd;letter-spacing:-0.28px;-webkit-text-stroke:0.3px #f6fefd;">3,166.6</span>
<span class="t" style="left:320.64px;top:213px;font-size:12.5px;color:#f46078;letter-spacing:0.46px;-webkit-text-stroke:0.1px #f46078;">-34.5 / -1.08%</span>
<span class="t" style="left:502.51px;top:213px;font-size:12.5px;color:#f6fefd;letter-spacing:-0.32px;-webkit-text-stroke:0.3px #f6fefd;">0.0041%</span>
<span class="t" style="left:593.87px;top:213px;font-size:12.5px;color:#f6fefd;letter-spacing:-0.4px;-webkit-text-stroke:0.3px #f6fefd;">$1,551,074,971</span>
<span class="t" style="left:697.87px;top:213px;font-size:12.5px;color:#f6fefd;letter-spacing:0.11px;-webkit-text-stroke:0.3px #f6fefd;">$1,508,263,362</span>
<div class="b" style="left:13px;top:233px;width:780px;height:24px;background:#273035;"></div>
<svg style="left:13.06px;top:239.05px" width="12" height="12" viewBox="0 0 12 12"><path d="M5.41 1.50 Q6.00 0.60 6.59 1.50 L7.97 3.59 L10.39 4.25 Q11.42 4.54 10.75 5.38 L9.19 7.34 L9.30 9.84 Q9.35 10.91 8.35 10.53 L6.00 9.65 L3.65 10.53 Q2.65 10.91 2.70 9.84 L2.81 7.34 L1.25 5.38 Q0.58 4.54 1.61 4.25 L4.03 3.59 Z" fill="none" stroke="#e4eaea" stroke-width="1.15" stroke-linejoin="round"/></svg>
<span class="t" style="left:30.42px;top:237px;font-size:12.5px;color:#f6fefd;letter-spacing:-0.17px;-webkit-text-stroke:0.3px #f6fefd;">XYZ100-USDC</span>
<div class="b" style="left:118px;top:235px;width:29px;height:20px;background:#0e3333;border-radius:5px;"></div>
<span class="t" style="left:122.47px;top:237px;font-size:12.5px;color:#50d2c1;letter-spacing:-0.05px;-webkit-text-stroke:0.1px #50d2c1;">20x</span>
<div class="b" style="left:152px;top:235px;width:27.5px;height:20px;background:#0e3333;border-radius:5px;"></div>
<span class="t" style="left:156.96px;top:237px;font-size:12.5px;color:#50d2c1;letter-spacing:-0.09px;-webkit-text-stroke:0.1px #50d2c1;">xyz</span>
<span class="t" style="left:216.37px;top:237px;font-size:12.5px;color:#f6fefd;letter-spacing:0.4px;-webkit-text-stroke:0.3px #f6fefd;">25,639</span>
<span class="t" style="left:320.59px;top:237px;font-size:12.5px;color:#21ad82;letter-spacing:0.32px;-webkit-text-stroke:0.1px #21ad82;">+44 / +0.17%</span>
<span class="t" style="left:502.51px;top:237px;font-size:12.5px;color:#f6fefd;letter-spacing:-0.32px;-webkit-text-stroke:0.3px #f6fefd;">0.0100%</span>
<span class="t" style="left:593.87px;top:237px;font-size:12.5px;color:#f6fefd;letter-spacing:0.25px;-webkit-text-stroke:0.3px #f6fefd;">$344,798,738</span>
<span class="t" style="left:697.87px;top:237px;font-size:12.5px;color:#f6fefd;letter-spacing:0.32px;-webkit-text-stroke:0.3px #f6fefd;">$80,693,948</span>
<svg style="left:13.06px;top:263.05px" width="12" height="12" viewBox="0 0 12 12"><path d="M5.41 1.50 Q6.00 0.60 6.59 1.50 L7.97 3.59 L10.39 4.25 Q11.42 4.54 10.75 5.38 L9.19 7.34 L9.30 9.84 Q9.35 10.91 8.35 10.53 L6.00 9.65 L3.65 10.53 Q2.65 10.91 2.70 9.84 L2.81 7.34 L1.25 5.38 Q0.58 4.54 1.61 4.25 L4.03 3.59 Z" fill="none" stroke="#e4eaea" stroke-width="1.15" stroke-linejoin="round"/></svg>
<span class="t" style="left:30.13px;top:261px;font-size:12.5px;color:#f6fefd;letter-spacing:-0.32px;-webkit-text-stroke:0.3px #f6fefd;">SOL-USDC</span>
<div class="b" style="left:97px;top:259px;width:30px;height:20px;background:#0e3333;border-radius:5px;"></div>
<span class="t" style="left:101.47px;top:261px;font-size:12.5px;color:#50d2c1;letter-spacing:0.45px;-webkit-text-stroke:0.1px #50d2c1;">20x</span>
<span class="t" style="left:216.05px;top:261px;font-size:12.5px;color:#f6fefd;letter-spacing:-0.13px;-webkit-text-stroke:0.3px #f6fefd;">139.97</span>
<span class="t" style="left:320.64px;top:261px;font-size:12.5px;color:#f46078;letter-spacing:0.45px;-webkit-text-stroke:0.1px #f46078;">-4.15 / -2.88%</span>
<span class="t" style="left:502.44px;top:261px;font-size:12.5px;color:#f6fefd;letter-spacing:0.21px;-webkit-text-stroke:0.3px #f6fefd;">-0.0040%</span>
<span class="t" style="left:593.87px;top:261px;font-size:12.5px;color:#f6fefd;letter-spacing:0.02px;-webkit-text-stroke:0.3px #f6fefd;">$320,929,128</span>
<span class="t" style="left:697.87px;top:261px;font-size:12.5px;color:#f6fefd;letter-spacing:-0.03px;-webkit-text-stroke:0.3px #f6fefd;">$435,116,858</span>
<svg style="left:13.06px;top:287.05px" width="12" height="12" viewBox="0 0 12 12"><path d="M5.41 1.50 Q6.00 0.60 6.59 1.50 L7.97 3.59 L10.39 4.25 Q11.42 4.54 10.75 5.38 L9.19 7.34 L9.30 9.84 Q9.35 10.91 8.35 10.53 L6.00 9.65 L3.65 10.53 Q2.65 10.91 2.70 9.84 L2.81 7.34 L1.25 5.38 Q0.58 4.54 1.61 4.25 L4.03 3.59 Z" fill="none" stroke="#e4eaea" stroke-width="1.15" stroke-linejoin="round"/></svg>
<span class="t" style="left:29.67px;top:285px;font-size:12.5px;color:#f6fefd;letter-spacing:-0.23px;-webkit-text-stroke:0.3px #f6fefd;">HYPE-USDC</span>
<div class="b" style="left:106px;top:283px;width:28px;height:20px;background:#0e3333;border-radius:5px;"></div>
<span class="t" style="left:110.15px;top:285px;font-size:12.5px;color:#50d2c1;letter-spacing:-0.38px;-webkit-text-stroke:0.1px #50d2c1;">10x</span>
<span class="t" style="left:216.52px;top:285px;font-size:12.5px;color:#f6fefd;letter-spacing:-0.08px;-webkit-text-stroke:0.3px #f6fefd;">33.714</span>
<span class="t" style="left:320.64px;top:285px;font-size:12.5px;color:#f46078;letter-spacing:0.52px;-webkit-text-stroke:0.1px #f46078;">-2.114 / -5.90%</span>
<span class="t" style="left:502.51px;top:285px;font-size:12.5px;color:#f6fefd;letter-spacing:-0.32px;-webkit-text-stroke:0.3px #f6fefd;">0.0100%</span>
<span class="t" style="left:593.87px;top:285px;font-size:12.5px;color:#f6fefd;letter-spacing:0.25px;-webkit-text-stroke:0.3px #f6fefd;">$229,652,603</span>
<span class="t" style="left:697.87px;top:285px;font-size:12.5px;color:#f6fefd;letter-spacing:0.38px;-webkit-text-stroke:0.3px #f6fefd;">$844,334,948</span>
<svg style="left:13.06px;top:311.05px" width="12" height="12" viewBox="0 0 12 12"><path d="M5.41 1.50 Q6.00 0.60 6.59 1.50 L7.97 3.59 L10.39 4.25 Q11.42 4.54 10.75 5.38 L9.19 7.34 L9.30 9.84 Q9.35 10.91 8.35 10.53 L6.00 9.65 L3.65 10.53 Q2.65 10.91 2.70 9.84 L2.81 7.34 L1.25 5.38 Q0.58 4.54 1.61 4.25 L4.03 3.59 Z" fill="none" stroke="#e4eaea" stroke-width="1.15" stroke-linejoin="round"/></svg>
<span class="t" style="left:29.67px;top:309px;font-size:12.5px;color:#f6fefd;letter-spacing:-0.27px;-webkit-text-stroke:0.3px #f6fefd;">FARTCOIN-USDC</span>
<div class="b" style="left:134px;top:307px;width:27px;height:20px;background:#0e3333;border-radius:5px;"></div>
<span class="t" style="left:138.15px;top:309px;font-size:12.5px;color:#50d2c1;letter-spacing:-0.88px;-webkit-text-stroke:0.1px #50d2c1;">10x</span>
<span class="t" style="left:216.51px;top:309px;font-size:12.5px;color:#f6fefd;letter-spacing:0.22px;-webkit-text-stroke:0.3px #f6fefd;">0.37805</span>
<span class="t" style="left:320.59px;top:309px;font-size:12.5px;color:#21ad82;letter-spacing:0.48px;-webkit-text-stroke:0.1px #21ad82;">+0.02110 / +5.91%</span>
<span class="t" style="left:502.51px;top:309px;font-size:12.5px;color:#f6fefd;letter-spacing:-0.32px;-webkit-text-stroke:0.3px #f6fefd;">0.0100%</span>
<span class="t" style="left:593.87px;top:309px;font-size:12.5px;color:#f6fefd;letter-spacing:-0.31px;-webkit-text-stroke:0.3px #f6fefd;">$132,565,111</span>
<span class="t" style="left:697.87px;top:309px;font-size:12.5px;color:#f6fefd;letter-spacing:0.17px;-webkit-text-stroke:0.3px #f6fefd;">$96,441,496</span>
<svg style="left:13.06px;top:335.05px" width="12" height="12" viewBox="0 0 12 12"><path d="M5.41 1.50 Q6.00 0.60 6.59 1.50 L7.97 3.59 L10.39 4.25 Q11.42 4.54 10.75 5.38 L9.19 7.34 L9.30 9.84 Q9.35 10.91 8.35 10.53 L6.00 9.65 L3.65 10.53 Q2.65 10.91 2.70 9.84 L2.81 7.34 L1.25 5.38 Q0.58 4.54 1.61 4.25 L4.03 3.59 Z" fill="none" stroke="#e4eaea" stroke-width="1.15" stroke-linejoin="round"/></svg>
<span class="t" style="left:30.3px;top:333px;font-size:12.5px;color:#f6fefd;letter-spacing:-0.27px;-webkit-text-stroke:0.3px #f6fefd;">ZEC-USDC</span>
<div class="b" style="left:98px;top:331px;width:27px;height:20px;background:#0e3333;border-radius:5px;"></div>
<span class="t" style="left:102.15px;top:333px;font-size:12.5px;color:#50d2c1;letter-spacing:-0.88px;-webkit-text-stroke:0.1px #50d2c1;">10x</span>
<span class="t" style="left:216.52px;top:333px;font-size:12.5px;color:#f6fefd;letter-spacing:-0.04px;-webkit-text-stroke:0.3px #f6fefd;">387.26</span>
<span class="t" style="left:320.59px;top:333px;font-size:12.5px;color:#21ad82;letter-spacing:0.41px;-webkit-text-stroke:0.1px #21ad82;">+41.74 / +12.08%</span>
<span class="t" style="left:502.51px;top:333px;font-size:12.5px;color:#f6fefd;letter-spacing:-0.32px;-webkit-text-stroke:0.3px #f6fefd;">0.0100%</span>
<span class="t" style="left:593.87px;top:333px;font-size:12.5px;color:#f6fefd;letter-spacing:-0.35px;-webkit-text-stroke:0.3px #f6fefd;">$131,116,039</span>
<span class="t" style="left:697.87px;top:333px;font-size:12.5px;color:#f6fefd;letter-spacing:-0.07px;-webkit-text-stroke:0.3px #f6fefd;">$194,777,866</span>
<svg style="left:13.06px;top:359.05px" width="12" height="12" viewBox="0 0 12 12"><path d="M5.41 1.50 Q6.00 0.60 6.59 1.50 L7.97 3.59 L10.39 4.25 Q11.42 4.54 10.75 5.38 L9.19 7.34 L9.30 9.84 Q9.35 10.91 8.35 10.53 L6.00 9.65 L3.65 10.53 Q2.65 10.91 2.70 9.84 L2.81 7.34 L1.25 5.38 Q0.58 4.54 1.61 4.25 L4.03 3.59 Z" fill="none" stroke="#e4eaea" stroke-width="1.15" stroke-linejoin="round"/></svg>
<span class="t" style="left:30.42px;top:357px;font-size:12.5px;color:#f6fefd;letter-spacing:-0.46px;-webkit-text-stroke:0.3px #f6fefd;">XRP-USDC</span>
<div class="b" style="left:97px;top:355px;width:29px;height:20px;background:#0e3333;border-radius:5px;"></div>
<span class="t" style="left:101.47px;top:357px;font-size:12.5px;color:#50d2c1;letter-spacing:-0.05px;-webkit-text-stroke:0.1px #50d2c1;">20x</span>
<span class="t" style="left:216.37px;top:357px;font-size:12.5px;color:#f6fefd;letter-spacing:-0.21px;-webkit-text-stroke:0.3px #f6fefd;">2.1086</span>
<span class="t" style="left:320.64px;top:357px;font-size:12.5px;color:#f46078;letter-spacing:0.49px;-webkit-text-stroke:0.1px #f46078;">-0.0847 / -3.86%</span>
<span class="t" style="left:502.51px;top:357px;font-size:12.5px;color:#f6fefd;letter-spacing:-0.07px;-webkit-text-stroke:0.3px #f6fefd;">0.0098%</span>
<span class="t" style="left:593.87px;top:357px;font-size:12.5px;color:#f6fefd;letter-spacing:0.16px;-webkit-text-stroke:0.3px #f6fefd;">$75,464,970</span>
<span class="t" style="left:697.87px;top:357px;font-size:12.5px;color:#f6fefd;letter-spacing:-0.21px;-webkit-text-stroke:0.3px #f6fefd;">$211,918,753</span>
<svg style="left:13.06px;top:383.05px" width="12" height="12" viewBox="0 0 12 12"><path d="M5.41 1.50 Q6.00 0.60 6.59 1.50 L7.97 3.59 L10.39 4.25 Q11.42 4.54 10.75 5.38 L9.19 7.34 L9.30 9.84 Q9.35 10.91 8.35 10.53 L6.00 9.65 L3.65 10.53 Q2.65 10.91 2.70 9.84 L2.81 7.34 L1.25 5.38 Q0.58 4.54 1.61 4.25 L4.03 3.59 Z" fill="none" stroke="#e4eaea" stroke-width="1.15" stroke-linejoin="round"/></svg>
<span class="t" style="left:29.67px;top:381px;font-size:12.5px;color:#f6fefd;letter-spacing:-0.18px;-webkit-text-stroke:0.3px #f6fefd;">PUMP-USDC</span>
<div class="b" style="left:109px;top:379px;width:27px;height:20px;background:#0e3333;border-radius:5px;"></div>
<span class="t" style="left:113.15px;top:381px;font-size:12.5px;color:#50d2c1;letter-spacing:-0.88px;-webkit-text-stroke:0.1px #50d2c1;">10x</span>
<span class="t" style="left:216.51px;top:381px;font-size:12.5px;color:#f6fefd;letter-spacing:0.2px;-webkit-text-stroke:0.3px #f6fefd;">0.003138</span>
<span class="t" style="left:320.64px;top:381px;font-size:12.5px;color:#f46078;letter-spacing:0.56px;-webkit-text-stroke:0.1px #f46078;">-0.000075 / -2.33%</span>
<span class="t" style="left:502.51px;top:381px;font-size:12.5px;color:#f6fefd;letter-spacing:-0.32px;-webkit-text-stroke:0.3px #f6fefd;">0.0100%</span>
<span class="t" style="left:593.87px;top:381px;font-size:12.5px;color:#f6fefd;letter-spacing:0.27px;-webkit-text-stroke:0.3px #f6fefd;">$33,486,763</span>
<span class="t" style="left:697.87px;top:381px;font-size:12.5px;color:#f6fefd;letter-spacing:-0.18px;-webkit-text-stroke:0.3px #f6fefd;">$70,979,167</span>
<svg style="left:13.06px;top:407.05px" width="12" height="12" viewBox="0 0 12 12"><path d="M5.41 1.50 Q6.00 0.60 6.59 1.50 L7.97 3.59 L10.39 4.25 Q11.42 4.54 10.75 5.38 L9.19 7.34 L9.30 9.84 Q9.35 10.91 8.35 10.53 L6.00 9.65 L3.65 10.53 Q2.65 10.91 2.70 9.84 L2.81 7.34 L1.25 5.38 Q0.58 4.54 1.61 4.25 L4.03 3.59 Z" fill="none" stroke="#e4eaea" stroke-width="1.15" stroke-linejoin="round"/></svg>
<span class="t" style="left:30.42px;top:405px;font-size:12.5px;color:#f6fefd;letter-spacing:-0.31px;-webkit-text-stroke:0.3px #f6fefd;">XPL-USDC</span>
<div class="b" style="left:96px;top:403px;width:27px;height:20px;background:#0e3333;border-radius:5px;"></div>
<span class="t" style="left:100.15px;top:405px;font-size:12.5px;color:#50d2c1;letter-spacing:-0.88px;-webkit-text-stroke:0.1px #50d2c1;">10x</span>
<span class="t" style="left:216.51px;top:405px;font-size:12.5px;color:#f6fefd;letter-spacing:-0.06px;-webkit-text-stroke:0.3px #f6fefd;">0.18994</span>
<span class="t" style="left:320.59px;top:405px;font-size:12.5px;color:#21ad82;letter-spacing:0.42px;-webkit-text-stroke:0.1px #21ad82;">+0.00480 / +2.59%</span>
<span class="t" style="left:502.51px;top:405px;font-size:12.5px;color:#f6fefd;letter-spacing:-0.32px;-webkit-text-stroke:0.3px #f6fefd;">0.0100%</span>
<span class="t" style="left:593.87px;top:405px;font-size:12.5px;color:#f6fefd;letter-spacing:0.12px;-webkit-text-stroke:0.3px #f6fefd;">$30,705,307</span>
<span class="t" style="left:697.87px;top:405px;font-size:12.5px;color:#f6fefd;letter-spacing:0.32px;-webkit-text-stroke:0.3px #f6fefd;">$43,636,952</span>
<svg style="left:13.06px;top:431.05px" width="12" height="12" viewBox="0 0 12 12"><path d="M5.41 1.50 Q6.00 0.60 6.59 1.50 L7.97 3.59 L10.39 4.25 Q11.42 4.54 10.75 5.38 L9.19 7.34 L9.30 9.84 Q9.35 10.91 8.35 10.53 L6.00 9.65 L3.65 10.53 Q2.65 10.91 2.70 9.84 L2.81 7.34 L1.25 5.38 Q0.58 4.54 1.61 4.25 L4.03 3.59 Z" fill="none" stroke="#e4eaea" stroke-width="1.15" stroke-linejoin="round"/></svg>
<span class="t" style="left:29.67px;top:429px;font-size:12.5px;color:#f6fefd;letter-spacing:-0.06px;-webkit-text-stroke:0.3px #f6fefd;">NVDA-USDC</span>
<div class="b" style="left:108px;top:427px;width:27px;height:20px;background:#0e3333;border-radius:5px;"></div>
<span class="t" style="left:112.15px;top:429px;font-size:12.5px;color:#50d2c1;letter-spacing:-0.88px;-webkit-text-stroke:0.1px #50d2c1;">10x</span>
<div class="b" style="left:140px;top:427px;width:28px;height:20px;background:#0e3333;border-radius:5px;"></div>
<span class="t" style="left:144.96px;top:429px;font-size:12.5px;color:#50d2c1;letter-spacing:0.16px;-webkit-text-stroke:0.1px #50d2c1;">xyz</span>
<span class="t" style="left:216.05px;top:429px;font-size:12.5px;color:#f6fefd;letter-spacing:0.05px;-webkit-text-stroke:0.3px #f6fefd;">183.68</span>
<span class="t" style="left:320.59px;top:429px;font-size:12.5px;color:#21ad82;letter-spacing:0.31px;-webkit-text-stroke:0.1px #21ad82;">+3.37 / +1.87%</span>
<span class="t" style="left:502.51px;top:429px;font-size:12.5px;color:#f6fefd;letter-spacing:-0.32px;-webkit-text-stroke:0.3px #f6fefd;">0.0100%</span>
<span class="t" style="left:593.87px;top:429px;font-size:12.5px;color:#f6fefd;letter-spacing:-0.18px;-webkit-text-stroke:0.3px #f6fefd;">$27,102,562</span>
<span class="t" style="left:697.87px;top:429px;font-size:12.5px;color:#f6fefd;letter-spacing:0.21px;-webkit-text-stroke:0.3px #f6fefd;">$22,276,640</span>
<div class="b" style="left:13px;top:464px;width:28px;height:19px;background:#252e33;border-radius:5px;"></div>
<kbd><span class="t" style="left:16.55px;top:466px;font-size:12px;color:#ffffff;font-family:'DejaVu Sans','Liberation Sans',sans-serif;-webkit-text-stroke:0.1px #ffffff;">⌘</span><span class="t" style="left:28.37px;top:466px;font-size:12.5px;color:#ffffff;-webkit-text-stroke:0.3px #ffffff;">K</span></kbd>
<span class="t" style="left:49.31px;top:466px;font-size:12.5px;color:#949e9c;letter-spacing:0.07px;-webkit-text-stroke:0.05px #949e9c;">Open</span>
<div class="b" style="left:95px;top:464px;width:24px;height:19px;background:#252e33;border-radius:5px;"></div>
<kbd><span class="t" style="left:96.88px;top:465px;font-size:11.5px;color:#ffffff;font-weight:700;font-family:'DejaVu Sans','Liberation Sans',sans-serif;">⇕</span><span class="t" style="left:105.24px;top:465px;font-size:11.5px;color:#ffffff;font-weight:700;font-family:'DejaVu Sans','Liberation Sans',sans-serif;">⇄</span></kbd>
<span class="t" style="left:126.97px;top:466px;font-size:12.5px;color:#949e9c;letter-spacing:0.29px;-webkit-text-stroke:0.05px #949e9c;">Navigate</span>
<div class="b" style="left:194px;top:464px;width:38px;height:19px;background:#252e33;border-radius:5px;"></div>
<kbd><span class="t" style="left:197.77px;top:466px;font-size:12.5px;color:#ffffff;letter-spacing:0.06px;-webkit-text-stroke:0.3px #ffffff;">Enter</span></kbd>
<span class="t" style="left:240.23px;top:466px;font-size:12.5px;color:#949e9c;letter-spacing:0.12px;-webkit-text-stroke:0.05px #949e9c;">Select</span>
<div class="b" style="left:291px;top:464px;width:27.7px;height:19px;background:#252e33;border-radius:5px;"></div>
<kbd><span class="t" style="left:295.05px;top:466px;font-size:12px;color:#ffffff;font-family:'DejaVu Sans','Liberation Sans',sans-serif;-webkit-text-stroke:0.1px #ffffff;">⌘</span><span class="t" style="left:307.33px;top:466px;font-size:12.5px;color:#ffffff;-webkit-text-stroke:0.3px #ffffff;">S</span></kbd>
<span class="t" style="left:326.87px;top:466px;font-size:12.5px;color:#949e9c;letter-spacing:0.12px;-webkit-text-stroke:0.05px #949e9c;">Favorite</span>
<div class="b" style="left:389px;top:464px;width:27.6px;height:19px;background:#252e33;border-radius:5px;"></div>
<kbd><span class="t" style="left:392.47px;top:466px;font-size:12.5px;color:#ffffff;letter-spacing:0.01px;-webkit-text-stroke:0.3px #ffffff;">Esc</span></kbd>
<span class="t" style="left:425.07px;top:466px;font-size:12.5px;color:#949e9c;letter-spacing:0.13px;-webkit-text-stroke:0.05px #949e9c;">Close</span>
</section>
</div>
</body>
</html>
